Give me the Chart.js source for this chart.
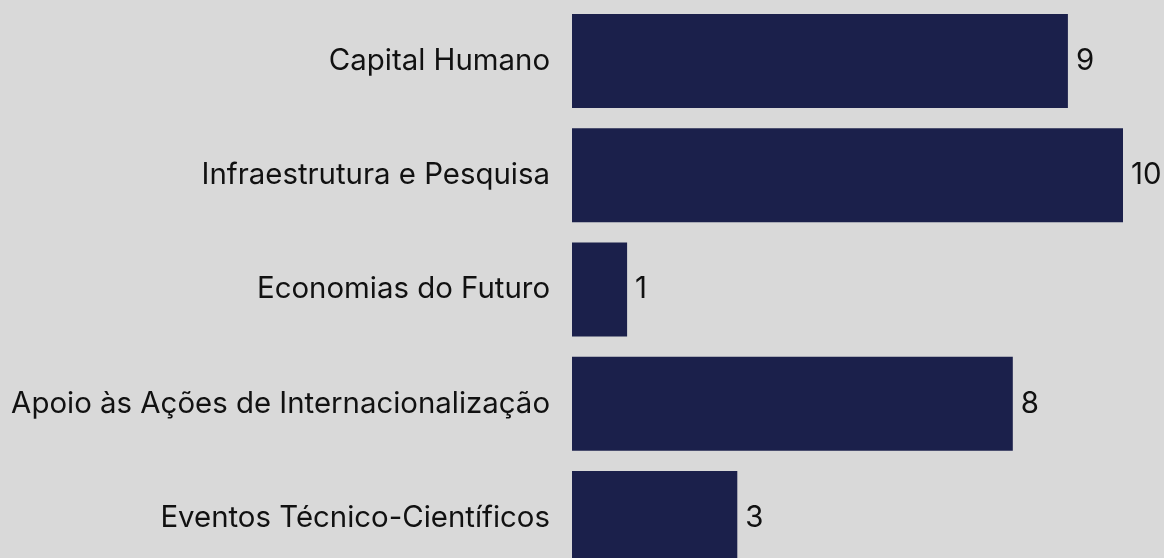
<!DOCTYPE html>
<html>
<head>
<meta charset="utf-8">
<script src="https://cdn.jsdelivr.net/npm/chart.js@4"></script>
<style>
html,body{margin:0;padding:0;background:#d9d9d9;overflow:hidden;width:1164px;height:558px;}
#c{position:absolute;left:0;top:0;}
</style>
</head>
<body>
<canvas id="c" width="1164" height="579"></canvas>
<script>
const categories = ["Capital Humano","Infraestrutura e Pesquisa","Economias do Futuro","Apoio às Ações de Internacionalização","Eventos Técnico-Científicos"];
const values = [9,10,1,8,3];

const FONT = "Inter, 'Noto Sans', sans-serif";
const FSIZE = 29.4;

const valueLabels = {
  id:'valueLabels',
  afterDatasetsDraw(chart){
    const ctx = chart.ctx;
    const meta = chart.getDatasetMeta(0);
    ctx.save();
    ctx.font = FSIZE + "px " + FONT;
    ctx.fillStyle = "#111111";
    ctx.textAlign = "left";
    ctx.textBaseline = "middle";
    meta.data.forEach((bar,i)=>{
      ctx.fillText(String(values[i]), bar.x + 8, bar.y);
    });
    ctx.restore();
  }
};

new Chart(document.getElementById('c'), {
  type:'bar',
  data:{
    labels:categories,
    datasets:[{data:values, backgroundColor:'#1b204b', borderWidth:0, barPercentage:0.823, categoryPercentage:1}]
  },
  options:{
    indexAxis:'y',
    responsive:false,
    maintainAspectRatio:false,
    devicePixelRatio:1,
    animation:false,
    layout:{padding:{top:4,bottom:4,right:41,left:0}},
    plugins:{legend:{display:false},tooltip:{enabled:false}},
    scales:{
      x:{display:false,min:0,max:10},
      y:{
        grid:{display:false,drawTicks:false},
        border:{display:false},
        ticks:{color:'#111111',font:{family:FONT,size:FSIZE},padding:22,autoSkip:false},
        afterFit(scale){scale.width = 572; scale.paddingTop = 0; scale.paddingBottom = 0;}
      }
    }
  },
  plugins:[valueLabels]
});
</script>
</body>
</html>
